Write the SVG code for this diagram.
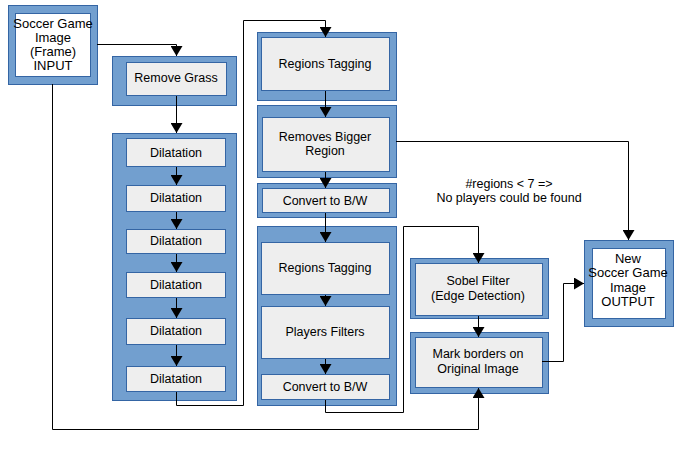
<svg xmlns="http://www.w3.org/2000/svg" width="688" height="450" viewBox="0 0 688 450">
<defs>
<style>
.outer{fill:#729fcf;stroke:#3465a4;stroke-width:1}
.inner{fill:#eeeeee;stroke:#3465a4;stroke-width:1}
.white{fill:#ffffff;stroke:#3465a4;stroke-width:1}
text{font-family:"Liberation Sans",Arial,sans-serif;font-size:12.5px;fill:#000;text-anchor:middle}
.big{font-size:13px}
.c{fill:none;stroke:#000;stroke-width:1}
</style>
<marker id="ah" markerWidth="10" markerHeight="12" refX="10" refY="6" orient="auto" markerUnits="userSpaceOnUse">
<path d="M0,0 L10,6 L0,12 Z" fill="#000"/>
</marker>
</defs>
<rect width="688" height="450" fill="#fff"/>

<g id="input">
<rect class="outer" x="8.5" y="5.5" width="89" height="79"/>
<rect class="white" x="15.5" y="13.5" width="75" height="63"/>
<text class="big" x="53" y="28">Soccer Game</text>
<text class="big" x="53" y="42">Image</text>
<text class="big" x="53" y="56">(Frame)</text>
<text class="big" x="53" y="70">INPUT</text>
</g>

<g id="remove-grass">
<rect class="outer" x="112.5" y="56.5" width="124" height="49"/>
<rect class="inner" x="126.5" y="62.5" width="100" height="33"/>
<text x="176" y="82">Remove Grass</text>
</g>

<g id="dilatation-group">
<rect class="outer" x="112.5" y="133.5" width="124" height="267"/>
<rect class="inner" x="126.5" y="138.5" width="99" height="28"/>
<text x="176" y="157">Dilatation</text>
<rect class="inner" x="126.5" y="185.5" width="99" height="26"/>
<text x="176" y="202">Dilatation</text>
<rect class="inner" x="126.5" y="229.5" width="99" height="24"/>
<text x="176" y="245">Dilatation</text>
<rect class="inner" x="126.5" y="272.5" width="99" height="25"/>
<text x="176" y="289">Dilatation</text>
<rect class="inner" x="126.5" y="318.5" width="99" height="26"/>
<text x="176" y="335">Dilatation</text>
<rect class="inner" x="126.5" y="366.5" width="99" height="25"/>
<text x="176" y="383">Dilatation</text>
</g>

<g id="regions-tagging-1">
<rect class="outer" x="257.5" y="32.5" width="139" height="68"/>
<rect class="inner" x="261.5" y="37.5" width="128" height="53"/>
<text x="325" y="68">Regions Tagging</text>
</g>

<g id="removes-bigger">
<rect class="outer" x="257.5" y="105.5" width="139" height="72"/>
<rect class="inner" x="262.5" y="117.5" width="127" height="54"/>
<text x="325" y="141">Removes Bigger</text>
<text x="325" y="155">Region</text>
</g>

<g id="convert-1">
<rect class="outer" x="257.5" y="183.5" width="139" height="34"/>
<rect class="inner" x="262.5" y="188.5" width="127" height="24"/>
<text x="325" y="205">Convert to B/W</text>
</g>

<g id="group-2">
<rect class="outer" x="257.5" y="226.5" width="139" height="179"/>
<rect class="inner" x="261.5" y="242.5" width="128" height="52"/>
<text x="325" y="272">Regions Tagging</text>
<rect class="inner" x="261.5" y="306.5" width="128" height="52"/>
<text x="325" y="336">Players Filters</text>
<rect class="inner" x="261.5" y="374.5" width="128" height="25"/>
<text x="325" y="391">Convert to B/W</text>
</g>

<g id="sobel">
<rect class="outer" x="410.5" y="258.5" width="138" height="60"/>
<rect class="inner" x="415.5" y="263.5" width="127" height="52"/>
<text x="478" y="285">Sobel Filter</text>
<text x="478" y="300">(Edge Detection)</text>
</g>

<g id="mark-borders">
<rect class="outer" x="410.5" y="332.5" width="138" height="61"/>
<rect class="inner" x="415.5" y="337.5" width="127" height="50"/>
<text x="478" y="358">Mark borders on</text>
<text x="478" y="373">Original Image</text>
</g>

<g id="output">
<rect class="outer" x="584.5" y="240.5" width="89" height="86"/>
<rect class="white" x="592.5" y="248.5" width="73" height="70"/>
<text class="big" x="628" y="263">New</text>
<text class="big" x="628" y="277">Soccer Game</text>
<text class="big" x="628" y="292">Image</text>
<text class="big" x="628" y="306">OUTPUT</text>
</g>

<g id="note">
<text x="509" y="188">#regions &lt; 7 =&gt;</text>
<text x="509" y="202">No players could be found</text>
</g>

<g id="connectors">
<polyline class="c" points="97,44.5 176.5,44.5 176.5,56" marker-end="url(#ah)"/>
<polyline class="c" points="176.5,96 176.5,133" marker-end="url(#ah)"/>
<polyline class="c" points="176.5,167 176.5,185" marker-end="url(#ah)"/>
<polyline class="c" points="176.5,212 176.5,229" marker-end="url(#ah)"/>
<polyline class="c" points="176.5,254 176.5,272" marker-end="url(#ah)"/>
<polyline class="c" points="176.5,298 176.5,318" marker-end="url(#ah)"/>
<polyline class="c" points="176.5,345 176.5,366" marker-end="url(#ah)"/>
<polyline class="c" points="176.5,392 176.5,405.5 243.5,405.5 243.5,20.5 325.5,20.5 325.5,37" marker-end="url(#ah)"/>
<polyline class="c" points="325.5,91 325.5,117" marker-end="url(#ah)"/>
<polyline class="c" points="325.5,172 325.5,188" marker-end="url(#ah)"/>
<polyline class="c" points="325.5,213 325.5,242" marker-end="url(#ah)"/>
<polyline class="c" points="325.5,295 325.5,306" marker-end="url(#ah)"/>
<polyline class="c" points="325.5,359 325.5,374" marker-end="url(#ah)"/>
<polyline class="c" points="325.5,400 325.5,412.5 403.5,412.5 403.5,226.5 478.5,226.5 478.5,263" marker-end="url(#ah)"/>
<polyline class="c" points="478.5,316 478.5,337" marker-end="url(#ah)"/>
<polyline class="c" points="396,141.5 628.5,141.5 628.5,240" marker-end="url(#ah)"/>
<polyline class="c" points="542,361.5 563.5,361.5 563.5,283.5 584,283.5" marker-end="url(#ah)"/>
<polyline class="c" points="52.5,84 52.5,429.5 478.5,429.5 478.5,388" marker-end="url(#ah)"/>
</g>
</svg>
